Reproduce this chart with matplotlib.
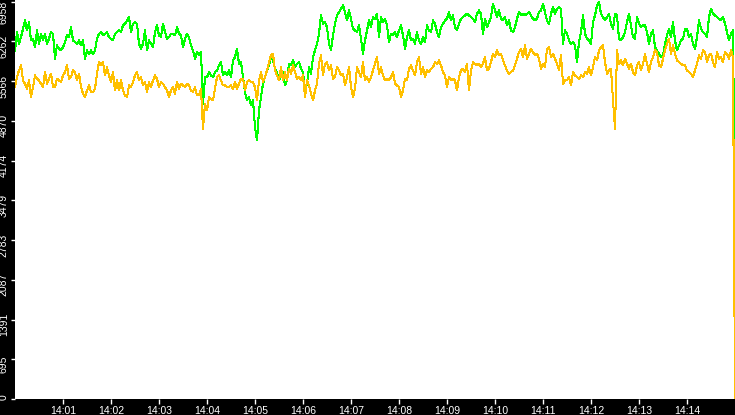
import numpy as np
import pandas as pd
import matplotlib
matplotlib.use('Agg')
import matplotlib.pyplot as plt
import matplotlib.dates as mdates
from matplotlib.transforms import ScaledTranslation

# samples every 2.5 s from 14:00:00 to 14:15:00
start = '2024-01-01 14:00:00'
step = '2500ms'

green = [
    6102, 6423, 6219, 6335, 6481, 6627, 6452, 6598, 6277, 6306,
    6160, 6452, 6219, 6394, 6277, 6394, 6219, 6306, 6423, 6394,
    5956, 6190, 6131, 6102, 6160, 6248, 6365, 6335, 6510, 6277,
    6248, 6219, 6277, 6190, 6277, 5956, 6102, 6044, 6102, 6044,
    6102, 6306, 6394, 6423, 6365, 6394, 6423, 6335, 6306, 6277,
    6394, 6423, 6452, 6423, 6540, 6569, 6627, 6685, 6423, 6569,
    6598, 6569, 6219, 6131, 6219, 6452, 6102, 6277, 6219, 6160,
    6423, 6540, 6365, 6335, 6569, 6423, 6306, 6335, 6394, 6394,
    6365, 6510, 6394, 6365, 6160, 6306, 6394, 6335, 6190, 6102,
    5956, 6073, 6015, 6073, 5169, 5635, 5635, 5723, 5665, 5635,
    5723, 5752, 5840, 5898, 5665, 5723, 5665, 5752, 5635, 5927,
    5985, 6131, 5869, 5898, 5635, 5373, 5227, 5285, 5140, 5227,
    4760, 4527, 5052, 5285, 5519, 5635, 5752, 5840, 6015, 5927,
    5781, 5723, 5577, 5665, 5723, 5490, 5577, 5869, 5840, 5927,
    5810, 5869, 5898, 5781, 5723, 5402, 5519, 5810, 5694, 5985,
    6102, 6219, 6394, 6715, 6569, 6598, 6510, 6219, 6102, 6365,
    6569, 6715, 6773, 6831, 6890, 6773, 6627, 6802, 6656, 6481,
    6452, 6423, 6540, 6306, 6044, 6277, 6452, 6627, 6510, 6685,
    6656, 6744, 6335, 6685, 6598, 6656, 6540, 6248, 6394, 6365,
    6423, 6335, 6452, 6540, 6365, 6131, 6335, 6452, 6277, 6306,
    6219, 6423, 6277, 6219, 6335, 6248, 6540, 6452, 6423, 6627,
    6569, 6423, 6335, 6510, 6569, 6627, 6656, 6773, 6627, 6715,
    6510, 6452, 6569, 6656, 6685, 6715, 6744, 6715, 6685, 6656,
    6598, 6744, 6802, 6744, 6394, 6656, 6510, 6598, 6685, 6919,
    6802, 6685, 6802, 6656, 6627, 6685, 6540, 6627, 6452, 6423,
    6510, 6656, 6773, 6715, 6744, 6715, 6744, 6773, 6715, 6656,
    6627, 6656, 6773, 6802, 6919, 6773, 6627, 6569, 6744, 6860,
    6744, 6831, 6860, 6831, 6219, 6452, 6394, 6277, 6219, 6248,
    6190, 5898, 6248, 6423, 6715, 6394, 6306, 6277, 6219, 6598,
    6715, 6890, 6948, 6744, 6685, 6627, 6685, 6744, 6569, 6481,
    6744, 6715, 6306, 6277, 6335, 6423, 6598, 6744, 6540, 6335,
    6306, 6685, 6569, 6510, 6540, 6540, 6423, 6219, 6394, 6452,
    6160, 6102, 6044, 5985, 6015, 6219, 6365, 6481, 6335, 6598,
    6277, 6102, 6190, 6277, 6306, 6481, 6481, 6335, 6394, 6219,
    6131, 6335, 6627, 6481, 6423, 6394, 6335, 6685, 6831, 6744,
    6715, 6685, 6656, 6627, 6685, 6569, 6423, 6277, 6394, 6452,
    2990,
]

amber = [
    5460, 5635, 5752, 5840, 5577, 5519, 5431, 5577, 5285, 5460,
    5665, 5606, 5577, 5519, 5460, 5723, 5519, 5606, 5694, 5460,
    5460, 5606, 5577, 5548, 5665, 5723, 5840, 5606, 5635, 5752,
    5723, 5577, 5694, 5460, 5344, 5285, 5402, 5490, 5373, 5373,
    5431, 5694, 5898, 5840, 5898, 5665, 5810, 5665, 5548, 5723,
    5402, 5577, 5402, 5577, 5402, 5315, 5285, 5490, 5460, 5548,
    5665, 5723, 5577, 5635, 5490, 5548, 5373, 5548, 5460, 5577,
    5665, 5606, 5460, 5548, 5519, 5460, 5402, 5285, 5402, 5460,
    5344, 5548, 5431, 5519, 5490, 5460, 5519, 5490, 5402, 5373,
    5460, 5315, 5315, 5431, 4731, 5169, 5052, 5285, 5256, 5227,
    5431, 5635, 5665, 5577, 5490, 5490, 5460, 5460, 5490, 5431,
    5548, 5431, 5519, 5606, 5606, 5402, 5548, 5577, 5548, 5548,
    5460, 5227, 5577, 5723, 5548, 5635, 5752, 5898, 6015, 6044,
    5752, 5665, 5577, 5810, 5577, 5723, 5577, 5781, 5694, 5840,
    5723, 5606, 5635, 5577, 5665, 5285, 5577, 5490, 5344, 5227,
    5402, 5519, 5869, 6015, 5665, 5869, 5898, 5752, 5840, 5606,
    5635, 5810, 5752, 5665, 5694, 5490, 5635, 5810, 5460, 5285,
    5431, 5810, 5723, 5635, 5898, 5577, 5635, 5548, 5635, 5752,
    5869, 5985, 5694, 5810, 5665, 5577, 5606, 5577, 5635, 5723,
    5519, 5490, 5460, 5285, 5402, 5606, 5577, 5781, 5840, 5752,
    5665, 5898, 5985, 5694, 5810, 5635, 5752, 5723, 5781, 5810,
    5898, 5869, 5927, 5840, 5723, 5665, 5460, 5635, 5577, 5606,
    5577, 5402, 5635, 5752, 5781, 5723, 5869, 5402, 5752, 5898,
    5869, 5840, 5869, 5810, 5869, 5985, 5752, 5781, 5898, 6044,
    5985, 6102, 6015, 6044, 5927, 5840, 5752, 5694, 5723, 5752,
    5840, 5956, 6073, 6131, 5985, 6190, 5956, 6044, 6131, 6073,
    6015, 6044, 5956, 5781, 5869, 5810, 6131, 6160, 5985, 6044,
    5956, 5869, 5752, 6015, 5519, 5577, 5577, 5635, 5490, 5723,
    5665, 5635, 5606, 5665, 5635, 5723, 5694, 5810, 5665, 5810,
    5985, 5927, 6102, 6160, 6190, 5898, 5694, 5752, 5781, 5227,
    4731, 6102, 5869, 5927, 5840, 5956, 5869, 5781, 5869, 5723,
    5665, 5840, 5898, 5752, 5869, 6044, 5869, 5723, 5898, 5985,
    6102, 6073, 5840, 5810, 5956, 6102, 6219, 6306, 6044, 6190,
    6044, 5927, 5898, 5869, 5840, 5840, 5752, 5723, 5694, 5635,
    5752, 5869, 6015, 5956, 6102, 6073, 5898, 6015, 6044, 5898,
    5810, 6073, 5956, 5985, 5898, 6073, 6044, 5956, 6102, 5985,
    0,
]

y_ticks = [0, 695, 1391, 2087, 2783, 3479, 4174, 4870, 5566, 6262, 6958]

times = pd.date_range(start, periods=len(green), freq=step)

plt.rcParams['font.family'] = ['Liberation Sans', 'DejaVu Sans']

fig = plt.figure(figsize=(7.35, 4.15), dpi=100, facecolor='black')
ax = fig.add_axes([15 / 735, 16 / 415, 720 / 735, 399 / 415])
ax.set_facecolor('white')

ax.plot(times, green, color='#00ff00', lw=0.75, antialiased=False)
ax.plot(times, amber, color='#ffc000', lw=0.75, antialiased=False)

ax.set_xlim(times[0], times[-1])
ax.set_ylim(0, 6985)
for s in ax.spines.values():
    s.set_visible(False)

ax.set_yticks(y_ticks)
ax.set_yticklabels([str(v) for v in y_ticks], rotation=90, va='center')
ax.xaxis.set_major_locator(mdates.MinuteLocator(byminute=range(1, 15)))
ax.xaxis.set_major_formatter(mdates.DateFormatter('%H:%M'))
ax.tick_params(axis='both', colors='white', labelsize=7.5, width=1)
ax.tick_params(axis='x', length=3.6, pad=1.2)
ax.tick_params(axis='y', length=2.9, pad=1.5)

# nudge the rotated y labels a bit below their tick
shifts = [2] + [-5] * (len(y_ticks) - 2) + [-11]
for lab, d in zip(ax.get_yticklabels(), shifts):
    lab.set_transform(lab.get_transform() + ScaledTranslation(0, d / 100, fig.dpi_scale_trans))

fig.savefig('out.png', dpi=100, facecolor='black')
